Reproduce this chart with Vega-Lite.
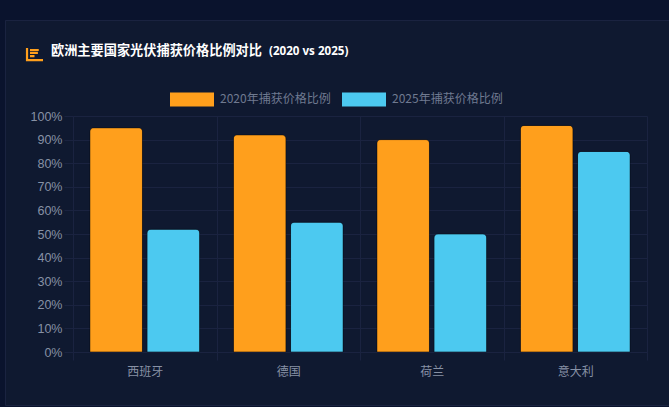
{
  "$schema": "https://vega.github.io/schema/vega-lite/v6.json",
  "width": 574,
  "height": 236,
  "autosize": "none",
  "padding": {"left": 73, "top": 116, "right": 22, "bottom": 55},
  "background": "#0f1930",
  "config": {"view": {"stroke": null}},
  "title": {
    "text": "欧洲主要国家光伏捕获价格比例对比",
    "anchor": "start",
    "frame": "group",
    "dx": -22,
    "offset": -78,
    "font": "Noto Sans CJK SC",
    "fontSize": 13.2,
    "fontWeight": "bold",
    "color": "#ffffff"
  },
  "data": {
    "values": [
      {"country": "西班牙", "series": "2020年捕获价格比例", "ratio": 95},
      {"country": "西班牙", "series": "2025年捕获价格比例", "ratio": 52},
      {"country": "德国", "series": "2020年捕获价格比例", "ratio": 92},
      {"country": "德国", "series": "2025年捕获价格比例", "ratio": 55},
      {"country": "荷兰", "series": "2020年捕获价格比例", "ratio": 90},
      {"country": "荷兰", "series": "2025年捕获价格比例", "ratio": 50},
      {"country": "意大利", "series": "2020年捕获价格比例", "ratio": 96},
      {"country": "意大利", "series": "2025年捕获价格比例", "ratio": 85}
    ]
  },
  "layer": [
    {
      "data": {"values": [{}]},
      "mark": {"type": "rect", "fill": null, "stroke": "#0a132d", "strokeWidth": 40, "clip": false},
      "encoding": {
        "x": {"value": -88},
        "x2": {"value": 660},
        "y": {"value": -116},
        "y2": {"value": 310}
      }
    },
    {
      "data": {"values": [{}]},
      "mark": {"type": "rect", "fill": null, "stroke": "#1a2340", "strokeWidth": 1, "clip": false},
      "encoding": {
        "x": {"value": -67.5},
        "x2": {"value": 640},
        "y": {"value": -95.5},
        "y2": {"value": 289.5}
      }
    },
    {
      "data": {"values": [{}]},
      "mark": {"type": "point", "filled": false, "stroke": "#ff9f1c", "strokeWidth": 2.2, "opacity": 1, "clip": false},
      "encoding": {
        "x": {"value": -38.5},
        "y": {"value": -61.5},
        "size": {"value": 289},
        "shape": {"value": "M-0.88,-0.76V0.65H1M-0.53,-0.53H0.5M-0.53,-0.18H0.4M-0.53,0.18H0"}
      }
    },
    {
      "data": {"values": [{"subtitle": "(2020 vs 2025)"}]},
      "mark": {"type": "text", "align": "left", "baseline": "middle", "font": "Noto Sans", "fontSize": 11.6, "fontWeight": "bold", "color": "#ffffff", "clip": false},
      "encoding": {
        "x": {"value": 196},
        "y": {"value": -64},
        "text": {"field": "subtitle"}
      }
    },
    {
      "mark": {"type": "bar", "cornerRadiusTopLeft": 4, "cornerRadiusTopRight": 4, "stroke": "#000000", "strokeWidth": 1, "strokeOpacity": 0.3},
      "encoding": {
        "x": {
          "field": "country",
          "type": "nominal",
          "sort": ["西班牙", "德国", "荷兰", "意大利"],
          "scale": {"paddingInner": 0, "paddingOuter": 0},
          "title": null,
          "axis": {
            "labelAngle": 0,
            "labelFont": "Noto Sans CJK SC",
            "labelFontSize": 12,
            "labelColor": "#8791a5",
            "labelPadding": 6,
            "tickBand": "extent",
            "tickSize": 8,
            "tickColor": "#1a2340",
            "domainColor": "#1a2340",
            "grid": true,
            "gridColor": "#1a2340"
          }
        },
        "xOffset": {
          "field": "series",
          "type": "nominal",
          "scale": {"paddingInner": 0.08, "paddingOuter": 0.295}
        },
        "y": {
          "field": "ratio",
          "type": "quantitative",
          "scale": {"domain": [0, 100], "nice": false},
          "title": null,
          "axis": {
            "values": [0, 10, 20, 30, 40, 50, 60, 70, 80, 90, 100],
            "labelExpr": "datum.value + '%'",
            "labelFont": "Liberation Sans",
            "labelFontSize": 12.5,
            "labelColor": "#8791a5",
            "labelPadding": 2,
            "tickSize": 9,
            "tickColor": "#1a2340",
            "domainColor": "#1a2340",
            "grid": true,
            "gridColor": "#1a2340"
          }
        },
        "color": {
          "field": "series",
          "type": "nominal",
          "scale": {"range": ["#ff9f1c", "#4cc9f0"]},
          "title": null,
          "legend": {
            "orient": "none",
            "direction": "horizontal",
            "legendX": 97,
            "legendY": -39,
            "symbolType": "M-1,-0.32H1V0.32H-1Z",
            "symbolSize": 1936,
            "symbolOpacity": 1,
            "symbolStrokeWidth": 0,
            "columnPadding": 11,
            "labelFont": "Noto Sans CJK SC",
            "labelFontSize": 12,
            "labelColor": "#6f7a90",
            "labelOffset": 6
          }
        }
      }
    }
  ]
}
